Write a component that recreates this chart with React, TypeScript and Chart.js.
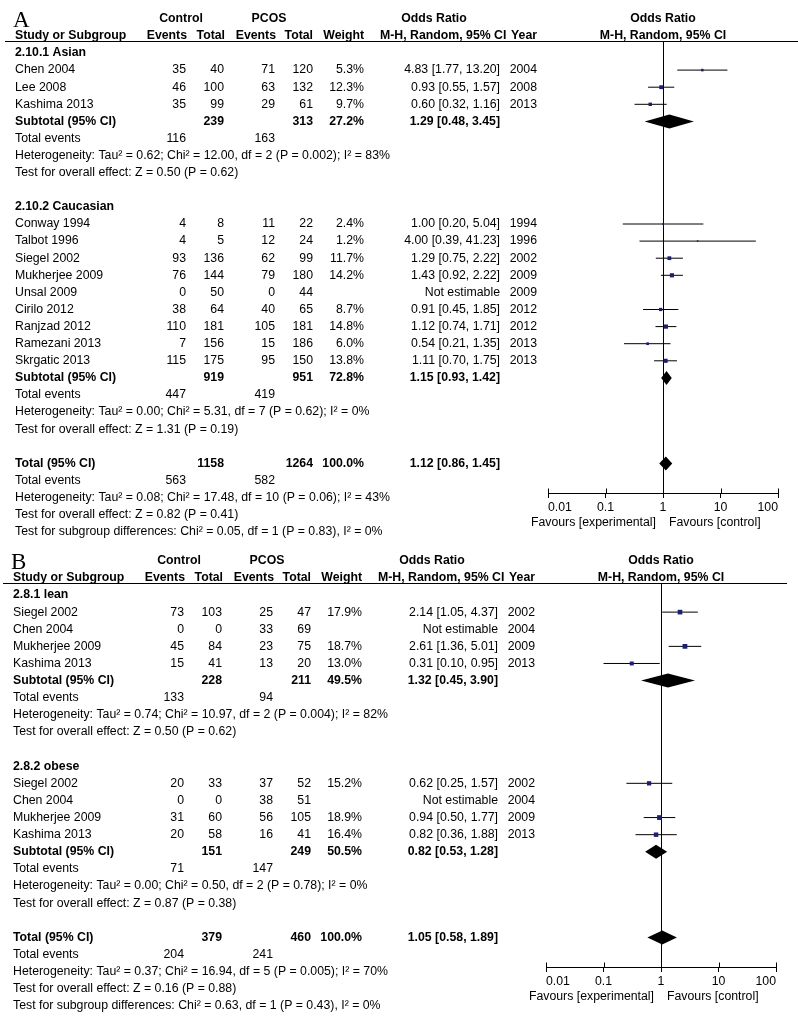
import React, { useEffect, useRef } from 'react';
import { Chart, registerables } from 'chart.js';

Chart.register(...registerables);

// ---------------- Panel A data ----------------
const A_GROUP_LABELS = ['2.10.1 Asian', '2.10.2 Caucasian'];
const A_GROUP_SIZES = [3, 9];
const A_STUDIES = ['Chen 2004', 'Lee 2008', 'Kashima 2013', 'Conway 1994', 'Talbot 1996', 'Siegel 2002', 'Mukherjee 2009', 'Unsal 2009', 'Cirilo 2012', 'Ranjzad 2012', 'Ramezani 2013', 'Skrgatic 2013'];
const A_CTRL_EVENTS = [35, 46, 35, 4, 4, 93, 76, 0, 38, 110, 7, 115];
const A_CTRL_TOTAL = [40, 100, 99, 8, 5, 136, 144, 50, 64, 181, 156, 175];
const A_PCOS_EVENTS = [71, 63, 29, 11, 12, 62, 79, 0, 40, 105, 15, 95];
const A_PCOS_TOTAL = [120, 132, 61, 22, 24, 99, 180, 44, 65, 181, 186, 150];
const A_WEIGHT = [5.3, 12.3, 9.7, 2.4, 1.2, 11.7, 14.2, null, 8.7, 14.8, 6.0, 13.8];
const A_OR = [4.83, 0.93, 0.60, 1.00, 4.00, 1.29, 1.43, null, 0.91, 1.12, 0.54, 1.11];
const A_LO = [1.77, 0.55, 0.32, 0.20, 0.39, 0.75, 0.92, null, 0.45, 0.74, 0.21, 0.70];
const A_HI = [13.20, 1.57, 1.16, 5.04, 41.23, 2.22, 2.22, null, 1.85, 1.71, 1.35, 1.75];
const A_YEAR = [2004, 2008, 2013, 1994, 1996, 2002, 2009, 2009, 2012, 2012, 2013, 2013];
const A_SUB_CTRL_EVENTS = [116, 447];
const A_SUB_PCOS_EVENTS = [163, 419];
const A_SUB_CTRL_TOTAL = [239, 919];
const A_SUB_PCOS_TOTAL = [313, 951];
const A_SUB_WEIGHT = [27.2, 72.8];
const A_SUB_OR = [1.29, 1.15];
const A_SUB_LO = [0.48, 0.93];
const A_SUB_HI = [3.45, 1.42];
const A_SUB_HET = [
  'Heterogeneity: Tau² = 0.62; Chi² = 12.00, df = 2 (P = 0.002); I² = 83%',
  'Heterogeneity: Tau² = 0.00; Chi² = 5.31, df = 7 (P = 0.62); I² = 0%',
];
const A_SUB_TEST = ['Test for overall effect: Z = 0.50 (P = 0.62)', 'Test for overall effect: Z = 1.31 (P = 0.19)'];
const A_TOTAL_N = [1158, 1264];
const A_TOTAL_EVENTS = [563, 582];
const A_TOTAL_OR = [1.12, 0.86, 1.45];
const A_TOTAL_WEIGHT = 100.0;
const A_TOTAL_TEXT = [
  'Heterogeneity: Tau² = 0.08; Chi² = 17.48, df = 10 (P = 0.06); I² = 43%',
  'Test for overall effect: Z = 0.82 (P = 0.41)',
  'Test for subgroup differences: Chi² = 0.05, df = 1 (P = 0.83), I² = 0%',
];

// ---------------- Panel B data ----------------
const B_GROUP_LABELS = ['2.8.1 lean', '2.8.2 obese'];
const B_GROUP_SIZES = [4, 4];
const B_STUDIES = ['Siegel 2002', 'Chen 2004', 'Mukherjee 2009', 'Kashima 2013', 'Siegel 2002', 'Chen 2004', 'Mukherjee 2009', 'Kashima 2013'];
const B_CTRL_EVENTS = [73, 0, 45, 15, 20, 0, 31, 20];
const B_CTRL_TOTAL = [103, 0, 84, 41, 33, 0, 60, 58];
const B_PCOS_EVENTS = [25, 33, 23, 13, 37, 38, 56, 16];
const B_PCOS_TOTAL = [47, 69, 75, 20, 52, 51, 105, 41];
const B_WEIGHT = [17.9, null, 18.7, 13.0, 15.2, null, 18.9, 16.4];
const B_OR = [2.14, null, 2.61, 0.31, 0.62, null, 0.94, 0.82];
const B_LO = [1.05, null, 1.36, 0.10, 0.25, null, 0.50, 0.36];
const B_HI = [4.37, null, 5.01, 0.95, 1.57, null, 1.77, 1.88];
const B_YEAR = [2002, 2004, 2009, 2013, 2002, 2004, 2009, 2013];
const B_SUB_CTRL_EVENTS = [133, 71];
const B_SUB_PCOS_EVENTS = [94, 147];
const B_SUB_CTRL_TOTAL = [228, 151];
const B_SUB_PCOS_TOTAL = [211, 249];
const B_SUB_WEIGHT = [49.5, 50.5];
const B_SUB_OR = [1.32, 0.82];
const B_SUB_LO = [0.45, 0.53];
const B_SUB_HI = [3.90, 1.28];
const B_SUB_HET = [
  'Heterogeneity: Tau² = 0.74; Chi² = 10.97, df = 2 (P = 0.004); I² = 82%',
  'Heterogeneity: Tau² = 0.00; Chi² = 0.50, df = 2 (P = 0.78); I² = 0%',
];
const B_SUB_TEST = ['Test for overall effect: Z = 0.50 (P = 0.62)', 'Test for overall effect: Z = 0.87 (P = 0.38)'];
const B_TOTAL_N = [379, 460];
const B_TOTAL_EVENTS = [204, 241];
const B_TOTAL_OR = [1.05, 0.58, 1.89];
const B_TOTAL_WEIGHT = 100.0;
const B_TOTAL_TEXT = [
  'Heterogeneity: Tau² = 0.37; Chi² = 16.94, df = 5 (P = 0.005); I² = 70%',
  'Test for overall effect: Z = 0.16 (P = 0.88)',
  'Test for subgroup differences: Chi² = 0.63, df = 1 (P = 0.43), I² = 0%',
];

// ---------------- Axis ----------------
const X_TICK_VALUES = [0.01, 0.1, 1, 10, 100];
const X_TICK_LABELS = ['0.01', '0.1', '1', '10', '100'];
const FAVOURS_LEFT = 'Favours [experimental]';
const FAVOURS_RIGHT = 'Favours [control]';

// ---------------- Styles / layout ----------------
const SANS = '"Liberation Sans", Arial, Helvetica, sans-serif';
const SERIF = '"Liberation Serif", "Times New Roman", serif';
const FONT_PX = 12.3;
const SQUARE_COLOR = '#1e1e6e';
const PAGE_W = 798;

type PanelData = {
  letter: string;
  groupLabels: string[];
  groupSizes: number[];
  names: string[];
  ctrlEvents: number[];
  ctrlTotal: number[];
  pcosEvents: number[];
  pcosTotal: number[];
  weight: (number | null)[];
  or: (number | null)[];
  lo: (number | null)[];
  hi: (number | null)[];
  year: number[];
  subCtrlEvents: number[];
  subPcosEvents: number[];
  subCtrlTotal: number[];
  subPcosTotal: number[];
  subWeight: number[];
  subOr: number[];
  subLo: number[];
  subHi: number[];
  subHet: string[];
  subTest: string[];
  totalN: number[];
  totalEvents: number[];
  totalOr: number[];
  totalWeight: number;
  totalText: string[];
};

type PanelLayout = {
  top: number;
  height: number;
  dx: number;
  row0: number;
  rowH: number;
  headerLineY: number;
  axisY: number;
  axisL: number;
  axisR: number;
  lineRight: number;
};

const PANEL_A: PanelData = {
  letter: 'A',
  groupLabels: A_GROUP_LABELS, groupSizes: A_GROUP_SIZES, names: A_STUDIES,
  ctrlEvents: A_CTRL_EVENTS, ctrlTotal: A_CTRL_TOTAL, pcosEvents: A_PCOS_EVENTS, pcosTotal: A_PCOS_TOTAL,
  weight: A_WEIGHT, or: A_OR, lo: A_LO, hi: A_HI, year: A_YEAR,
  subCtrlEvents: A_SUB_CTRL_EVENTS, subPcosEvents: A_SUB_PCOS_EVENTS, subCtrlTotal: A_SUB_CTRL_TOTAL,
  subPcosTotal: A_SUB_PCOS_TOTAL, subWeight: A_SUB_WEIGHT, subOr: A_SUB_OR, subLo: A_SUB_LO, subHi: A_SUB_HI,
  subHet: A_SUB_HET, subTest: A_SUB_TEST,
  totalN: A_TOTAL_N, totalEvents: A_TOTAL_EVENTS, totalOr: A_TOTAL_OR, totalWeight: A_TOTAL_WEIGHT, totalText: A_TOTAL_TEXT,
};

const PANEL_B: PanelData = {
  letter: 'B',
  groupLabels: B_GROUP_LABELS, groupSizes: B_GROUP_SIZES, names: B_STUDIES,
  ctrlEvents: B_CTRL_EVENTS, ctrlTotal: B_CTRL_TOTAL, pcosEvents: B_PCOS_EVENTS, pcosTotal: B_PCOS_TOTAL,
  weight: B_WEIGHT, or: B_OR, lo: B_LO, hi: B_HI, year: B_YEAR,
  subCtrlEvents: B_SUB_CTRL_EVENTS, subPcosEvents: B_SUB_PCOS_EVENTS, subCtrlTotal: B_SUB_CTRL_TOTAL,
  subPcosTotal: B_SUB_PCOS_TOTAL, subWeight: B_SUB_WEIGHT, subOr: B_SUB_OR, subLo: B_SUB_LO, subHi: B_SUB_HI,
  subHet: B_SUB_HET, subTest: B_SUB_TEST,
  totalN: B_TOTAL_N, totalEvents: B_TOTAL_EVENTS, totalOr: B_TOTAL_OR, totalWeight: B_TOTAL_WEIGHT, totalText: B_TOTAL_TEXT,
};

const LAYOUT_A: PanelLayout = { top: 0, height: 540, dx: 0, row0: 53, rowH: 17.1, headerLineY: 41, axisY: 493, axisL: 548, axisR: 778, lineRight: 798 };
const LAYOUT_B: PanelLayout = { top: 540, height: 479, dx: -2, row0: 55, rowH: 17.12, headerLineY: 43, axisY: 427, axisL: 546, axisR: 776, lineRight: 787 };

// column x positions (panel A; panel B shifted by dx)
const COL = {
  name: 15, ctrlEv: 186, ctrlTot: 224, pcosEv: 275, pcosTot: 313, weight: 364,
  orText: 500, year: 537, mh: 380, ctrlHead: 181, pcosHead: 269, orHead: 434, letter: 13,
};
const AXIS_H = 40;
const DIAMOND_H = 7;

type Row =
  | { r: number; kind: 'group'; label: string }
  | { r: number; kind: 'study'; i: number }
  | { r: number; kind: 'subtotal'; g: number }
  | { r: number; kind: 'events'; ctrl: number; pcos: number }
  | { r: number; kind: 'note'; text: string }
  | { r: number; kind: 'total' };

function buildRows(p: PanelData): Row[] {
  const rows: Row[] = [];
  let r = 0;
  let s = 0;
  p.groupLabels.forEach((label, g) => {
    rows.push({ r: r++, kind: 'group', label });
    for (let k = 0; k < p.groupSizes[g]; k++, s++) rows.push({ r: r++, kind: 'study', i: s });
    rows.push({ r: r++, kind: 'subtotal', g });
    rows.push({ r: r++, kind: 'events', ctrl: p.subCtrlEvents[g], pcos: p.subPcosEvents[g] });
    rows.push({ r: r++, kind: 'note', text: p.subHet[g] });
    rows.push({ r: r++, kind: 'note', text: p.subTest[g] });
    r++;
  });
  rows.push({ r: r++, kind: 'total' });
  rows.push({ r: r++, kind: 'events', ctrl: p.totalEvents[0], pcos: p.totalEvents[1] });
  p.totalText.forEach((t) => rows.push({ r: r++, kind: 'note', text: t }));
  return rows;
}

const fmtOr = (o: number, l: number, h: number) => `${o.toFixed(2)} [${l.toFixed(2)}, ${h.toFixed(2)}]`;

function ForestPanel({ p, L }: { p: PanelData; L: PanelLayout }) {
  const ref = useRef<HTMLCanvasElement>(null);

  useEffect(() => {
    const canvas = ref.current;
    if (!canvas) return;
    const rows = buildRows(p);

    const squares: { x: number; y: number }[] = [];
    const radii: number[] = [];
    const ciSets: any[] = [];
    rows.forEach((rw) => {
      if (rw.kind !== 'study') return;
      const o = p.or[rw.i];
      const lo = p.lo[rw.i];
      const hi = p.hi[rw.i];
      const w = p.weight[rw.i];
      if (o == null || lo == null || hi == null || w == null) return;
      squares.push({ x: o, y: rw.r });
      const side = Math.max(1.6, 1.1 * Math.sqrt(w));
      radii.push(side / Math.SQRT2);
      ciSets.push({
        type: 'scatter',
        showLine: true,
        data: [{ x: lo, y: rw.r }, { x: hi, y: rw.r }],
        borderColor: '#000',
        borderWidth: 1,
        pointRadius: 0,
        order: 2,
      });
    });

    const yMin = (L.headerLineY - L.row0) / L.rowH;
    const yMax = (L.axisY - L.row0) / L.rowH;

    const panelPlugin = {
      id: 'forestText',
      beforeDatasetsDraw(chart: any) {
        const ctx = chart.ctx;
        const xs = chart.scales.x;
        const ca = chart.chartArea;
        const x1 = Math.round(xs.getPixelForValue(1)) + 0.5;
        ctx.save();
        ctx.strokeStyle = '#000';
        ctx.lineWidth = 1;
        ctx.beginPath();
        ctx.moveTo(x1, ca.top);
        ctx.lineTo(x1, ca.bottom);
        ctx.stroke();
        ctx.restore();
      },
      afterDatasetsDraw(chart: any) {
        const ctx = chart.ctx;
        const xs = chart.scales.x;
        const ys = chart.scales.y;
        const diamond = (o: number, lo: number, hi: number, r: number) => {
          const cy = ys.getPixelForValue(r);
          ctx.beginPath();
          ctx.moveTo(xs.getPixelForValue(lo), cy);
          ctx.lineTo(xs.getPixelForValue(o), cy - DIAMOND_H);
          ctx.lineTo(xs.getPixelForValue(hi), cy);
          ctx.lineTo(xs.getPixelForValue(o), cy + DIAMOND_H);
          ctx.closePath();
          ctx.fill();
        };
        ctx.save();
        ctx.fillStyle = '#000';
        rows.forEach((rw) => {
          if (rw.kind === 'subtotal') diamond(p.subOr[rw.g], p.subLo[rw.g], p.subHi[rw.g], rw.r);
          if (rw.kind === 'total') diamond(p.totalOr[0], p.totalOr[1], p.totalOr[2], rw.r);
        });
        ctx.restore();
      },
      afterDraw(chart: any) {
        const ctx = chart.ctx;
        const xs = chart.scales.x;
        const ys = chart.scales.y;
        const ca = chart.chartArea;
        const dx = L.dx;
        const Y = (r: number) => ys.getPixelForValue(r);
        const txt = (s: string, px: number, r: number, align: CanvasTextAlign, bold = false) => {
          ctx.font = `${bold ? 'bold ' : ''}${FONT_PX}px ${SANS}`;
          ctx.textAlign = align;
          ctx.fillText(s, px, Y(r));
        };
        ctx.save();
        ctx.fillStyle = '#000';
        ctx.textBaseline = 'middle';

        // panel letter
        ctx.font = `23px ${SERIF}`;
        ctx.textAlign = 'left';
        ctx.textBaseline = 'alphabetic';
        ctx.fillText(p.letter, COL.letter + dx, Y(-2) + 8);
        ctx.textBaseline = 'middle';

        const axisMid = (ca.left + ca.right) / 2;
        // headers
        txt('Control', COL.ctrlHead + dx, -2, 'center', true);
        txt('PCOS', COL.pcosHead + dx, -2, 'center', true);
        txt('Odds Ratio', COL.orHead + dx, -2, 'center', true);
        txt('Odds Ratio', axisMid, -2, 'center', true);
        txt('Study or Subgroup', COL.name + dx, -1, 'left', true);
        txt('Events', COL.ctrlEv + 1 + dx, -1, 'right', true);
        txt('Total', COL.ctrlTot + 1 + dx, -1, 'right', true);
        txt('Events', COL.pcosEv + 1 + dx, -1, 'right', true);
        txt('Total', COL.pcosTot + dx, -1, 'right', true);
        txt('Weight', COL.weight + dx, -1, 'right', true);
        txt('M-H, Random, 95% CI', COL.mh + dx, -1, 'left', true);
        txt('Year', COL.year + dx, -1, 'right', true);
        txt('M-H, Random, 95% CI', axisMid, -1, 'center', true);

        // header rule
        ctx.strokeStyle = '#000';
        ctx.lineWidth = 1;
        ctx.beginPath();
        ctx.moveTo(5 + dx, Math.round(ca.top) + 0.5);
        ctx.lineTo(L.lineRight, Math.round(ca.top) + 0.5);
        ctx.stroke();

        rows.forEach((rw) => {
          if (rw.kind === 'group') {
            txt(rw.label, COL.name + dx, rw.r, 'left', true);
          } else if (rw.kind === 'study') {
            const i = rw.i;
            txt(p.names[i], COL.name + dx, rw.r, 'left');
            txt(String(p.ctrlEvents[i]), COL.ctrlEv + dx, rw.r, 'right');
            txt(String(p.ctrlTotal[i]), COL.ctrlTot + dx, rw.r, 'right');
            txt(String(p.pcosEvents[i]), COL.pcosEv + dx, rw.r, 'right');
            txt(String(p.pcosTotal[i]), COL.pcosTot + dx, rw.r, 'right');
            const w = p.weight[i];
            if (w != null) txt(`${w.toFixed(1)}%`, COL.weight + dx, rw.r, 'right');
            const o = p.or[i];
            const lo = p.lo[i];
            const hi = p.hi[i];
            txt(o != null && lo != null && hi != null ? fmtOr(o, lo, hi) : 'Not estimable', COL.orText + dx, rw.r, 'right');
            txt(String(p.year[i]), COL.year + dx, rw.r, 'right');
          } else if (rw.kind === 'subtotal') {
            const g = rw.g;
            txt('Subtotal (95% CI)', COL.name + dx, rw.r, 'left', true);
            txt(String(p.subCtrlTotal[g]), COL.ctrlTot + dx, rw.r, 'right', true);
            txt(String(p.subPcosTotal[g]), COL.pcosTot + dx, rw.r, 'right', true);
            txt(`${p.subWeight[g].toFixed(1)}%`, COL.weight + dx, rw.r, 'right', true);
            txt(fmtOr(p.subOr[g], p.subLo[g], p.subHi[g]), COL.orText + dx, rw.r, 'right', true);
          } else if (rw.kind === 'total') {
            txt('Total (95% CI)', COL.name + dx, rw.r, 'left', true);
            txt(String(p.totalN[0]), COL.ctrlTot + dx, rw.r, 'right', true);
            txt(String(p.totalN[1]), COL.pcosTot + dx, rw.r, 'right', true);
            txt(`${p.totalWeight.toFixed(1)}%`, COL.weight + dx, rw.r, 'right', true);
            txt(fmtOr(p.totalOr[0], p.totalOr[1], p.totalOr[2]), COL.orText + dx, rw.r, 'right', true);
          } else if (rw.kind === 'events') {
            txt('Total events', COL.name + dx, rw.r, 'left');
            txt(String(rw.ctrl), COL.ctrlEv + dx, rw.r, 'right');
            txt(String(rw.pcos), COL.pcosEv + dx, rw.r, 'right');
          } else if (rw.kind === 'note') {
            txt(rw.text, COL.name + dx, rw.r, 'left');
          }
        });

        // upper halves of the axis tick marks
        const by = Math.round(ca.bottom) + 0.5;
        ctx.beginPath();
        X_TICK_VALUES.forEach((v) => {
          const px = Math.round(xs.getPixelForValue(v)) + 0.5;
          ctx.moveTo(px, by - 5);
          ctx.lineTo(px, by);
        });
        ctx.stroke();

        // favours labels
        const x1 = xs.getPixelForValue(1);
        ctx.font = `${FONT_PX}px ${SANS}`;
        ctx.textAlign = 'right';
        ctx.fillText(FAVOURS_LEFT, x1 - 7, ca.bottom + 30);
        ctx.textAlign = 'left';
        ctx.fillText(FAVOURS_RIGHT, x1 + 6, ca.bottom + 30);
        ctx.restore();
      },
    };

    const chart = new Chart(canvas, {
      type: 'scatter',
      data: {
        datasets: [
          {
            type: 'scatter',
            data: squares,
            pointStyle: 'rect',
            pointRadius: radii,
            pointHoverRadius: radii,
            pointBackgroundColor: SQUARE_COLOR,
            pointBorderWidth: 0,
            borderWidth: 0,
            order: 1,
          } as any,
          ...ciSets,
        ],
      },
      options: {
        animation: false,
        responsive: false,
        maintainAspectRatio: false,
        events: [],
        layout: {
          padding: {
            left: L.axisL,
            right: PAGE_W - L.axisR,
            top: L.headerLineY,
            bottom: L.height - L.axisY - AXIS_H,
          },
        },
        plugins: { legend: { display: false }, tooltip: { enabled: false }, title: { display: false } },
        scales: {
          x: {
            type: 'logarithmic',
            position: 'bottom',
            min: 0.01,
            max: 100,
            afterBuildTicks: (s: any) => {
              s.ticks = X_TICK_VALUES.map((v) => ({ value: v }));
            },
            afterFit: (s: any) => {
              s.height = AXIS_H;
            },
            ticks: {
              autoSkip: false,
              maxRotation: 0,
              minRotation: 0,
              align: 'inner',
              padding: 2,
              color: '#000',
              font: { family: SANS, size: FONT_PX },
              callback: (_v: any, i: number) => X_TICK_LABELS[i],
            },
            grid: { display: true, drawOnChartArea: false, drawTicks: true, tickLength: 5, color: '#000', lineWidth: 1 },
            border: { display: true, color: '#000', width: 1 },
          },
          y: {
            type: 'linear',
            min: yMin,
            max: yMax,
            reverse: true,
            display: false,
            bounds: 'data',
          },
        },
      } as any,
      plugins: [panelPlugin],
    });

    return () => chart.destroy();
  }, [p, L]);

  return (
    <canvas
      ref={ref}
      width={PAGE_W}
      height={L.height}
      style={{ position: 'absolute', left: 0, top: L.top, width: PAGE_W, height: L.height, display: 'block' }}
    />
  );
}

export default function App() {
  return (
    <div style={{ position: 'absolute', left: 0, top: 0, width: PAGE_W, height: 1019, background: '#fff', overflow: 'hidden' }}>
      <ForestPanel p={PANEL_A} L={LAYOUT_A} />
      <ForestPanel p={PANEL_B} L={LAYOUT_B} />
    </div>
  );
}
